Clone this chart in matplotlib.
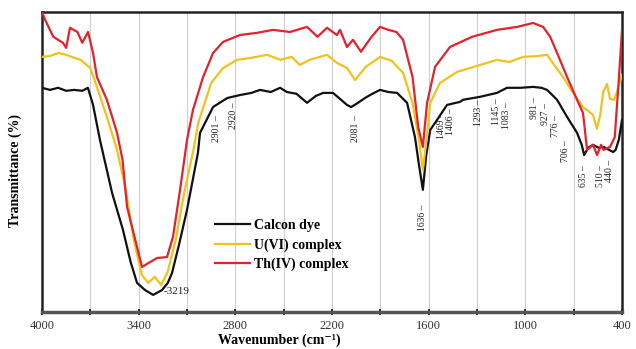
import matplotlib
matplotlib.use('Agg')
import matplotlib.pyplot as plt
from matplotlib.ticker import FixedLocator

plt.rcParams['font.family'] = ['Liberation Serif', 'DejaVu Serif']

# Calcon dye
wn_dye = [4000, 3950, 3900, 3850, 3800, 3750, 3715, 3683, 3640, 3565, 3497, 3450, 3410, 3360,
          3310, 3255, 3219, 3193, 3150, 3100, 3032, 3019, 2938, 2850, 2770, 2700, 2647, 2580,
          2522, 2480, 2420, 2355, 2300, 2255, 2194, 2150, 2107, 2081, 2050, 1995, 1950, 1902,
          1850, 1796, 1734, 1685, 1660, 1636, 1615, 1590, 1548, 1486, 1406, 1387, 1281, 1176,
          1114, 1030, 952, 900, 865, 803, 741, 679, 650, 635, 610, 580, 545, 515, 480, 455,
          440, 420, 400]
t_dye = [74.7, 74.0, 74.7, 73.7, 74.0, 73.7, 74.7, 69.0, 57.3, 39.7, 27.3, 16.7, 9.7, 7.3,
         5.7, 7.3, 9.7, 13.0, 22.3, 34.0, 53.0, 59.7, 68.3, 71.3, 72.3, 73.0, 74.0, 73.3,
         74.7, 73.3, 72.7, 69.7, 72.0, 73.0, 73.0, 71.0, 69.0, 68.3, 69.3, 71.3, 72.7, 74.0,
         73.3, 73.0, 69.7, 58.3, 49.0, 40.7, 52.3, 60.7, 64.0, 69.0, 70.0, 70.7, 71.7, 73.0,
         74.7, 74.7, 75.0, 74.7, 74.0, 70.7, 65.0, 59.7, 55.7, 52.3, 54.7, 55.7, 54.7, 55.0,
         54.0, 53.3, 54.0, 57.3, 64.0]

# U(VI) complex
wn_u = [4000, 3950, 3900, 3850, 3800, 3760, 3700, 3659, 3597, 3534, 3480, 3430, 3380, 3340,
        3300, 3260, 3220, 3170, 3120, 3060, 3030, 2950, 2876, 2790, 2700, 2603, 2520, 2450,
        2400, 2340, 2231, 2170, 2107, 2057, 1990, 1902, 1830, 1759, 1700, 1660, 1636, 1610,
        1590, 1530, 1424, 1281, 1176, 1100, 1014, 920, 865, 830, 766, 704, 642, 580, 556,
        535, 517, 493, 474, 450, 431, 400]
t_u = [85.0, 85.3, 86.3, 85.7, 84.7, 84.0, 81.3, 75.0, 65.0, 54.0, 40.7, 24.0, 12.3, 9.7,
       11.7, 9.0, 13.3, 24.0, 39.0, 54.0, 63.0, 76.3, 81.3, 84.0, 84.7, 85.7, 84.0, 85.0,
       82.3, 84.0, 85.7, 83.0, 81.3, 77.3, 81.7, 85.0, 83.7, 79.7, 69.7, 57.3, 47.3, 59.0,
       69.7, 76.3, 80.0, 82.3, 84.0, 83.3, 85.0, 85.3, 85.7, 83.0, 78.3, 73.0, 68.3, 65.7, 61.0,
       65.7, 73.3, 76.0, 71.0, 70.7, 73.3, 79.0]

# Th(IV) complex
wn_th = [4000, 3980, 3930, 3870, 3850, 3826, 3780, 3750, 3714, 3683, 3659, 3597, 3534, 3500,
         3472, 3410, 3379, 3340, 3285, 3224, 3187, 3143, 3100, 3063, 3000, 2938, 2876, 2770,
         2667, 2566, 2460, 2355, 2290, 2231, 2170, 2150, 2107, 2070, 2020, 1960, 1902, 1850,
         1800, 1759, 1700, 1665, 1636, 1610, 1560, 1468, 1330, 1176, 1050, 952, 890, 846, 803,
         741, 679, 642, 617, 580, 555, 530, 515, 474, 445, 420, 400]
t_th = [100.0, 97.3, 91.7, 89.7, 88.0, 94.7, 93.3, 89.7, 93.3, 86.3, 78.3, 70.7, 59.7, 50.7,
        35.0, 21.7, 15.0, 16.3, 18.0, 18.3, 25.0, 40.7, 57.3, 67.3, 78.3, 86.3, 90.0, 92.3,
        93.0, 94.0, 93.3, 95.0, 91.7, 94.7, 92.3, 94.0, 88.3, 90.7, 86.7, 91.3, 95.0, 94.0,
        93.3, 90.7, 78.3, 61.7, 55.0, 69.7, 81.7, 88.3, 91.7, 94.0, 95.0, 96.3, 95.0, 91.7, 86.3,
        78.3, 70.7, 66.3, 54.0, 55.7, 52.3, 55.7, 54.0, 55.0, 58.3, 77.3, 94.0]

# peak labels: text, x position (cm-1), top of text (%)
peak_labels = ['2901', '2920', '2081', '1636', '1469', '1406', '1293', '1145', '1083',
               '981', '927', '776', '706', '635', '510', '440']
peak_x = [2914, 2814, 2057, 1641, 1522, 1462, 1288, 1178, 1120,
          946, 872, 814, 748, 642, 532, 478]
peak_top = [65.7, 70.0, 65.7, 35.7, 66.5, 68.0, 70.7, 71.3, 70.0,
            71.7, 69.7, 65.7, 57.3, 49.0, 49.0, 50.7]

fig = plt.figure(figsize=(6.36, 3.49), dpi=100)
ax = fig.add_axes([0.066, 0.106, 0.912, 0.860])

ax.plot(wn_dye, t_dye, color='#111111', lw=1.6, label='Calcon dye', zorder=3)
ax.plot(wn_u, t_u, color='#f2c21b', lw=1.6, label='U(VI) complex', zorder=3)
ax.plot(wn_th, t_th, color='#e3222b', lw=1.6, label='Th(IV) complex', zorder=3)

for lab, x, y in zip(peak_labels, peak_x, peak_top):
    ax.text(x, y, lab + ' \u2013', rotation=90, ha='center', va='top',
            fontsize=7, color='#222222', zorder=4)
ax.text(3243, 6.7, '-3219', ha='left', va='center', fontsize=8, color='#222222')

ax.set_xlim(4000, 400)
ax.set_ylim(0, 100)
ax.xaxis.set_major_locator(FixedLocator([4000, 3400, 2800, 2200, 1600, 1000, 400]))
ax.xaxis.set_minor_locator(FixedLocator([3700, 3100, 2500, 1900, 1300, 700]))
ax.tick_params(axis='x', which='both', direction='inout', length=5, width=1.2,
               labelsize=9, labelcolor='#333333', pad=3)
ax.set_yticks([])

for x in range(3700, 400, -300):
    ax.axvline(x, color='#cfcfcf', lw=0.8, zorder=1)

for s in ax.spines.values():
    s.set_linewidth(1.8)
    s.set_color('#222222')
ax.spines['bottom'].set_color('#555555')
ax.spines['bottom'].set_linewidth(2.5)

ax.set_xlabel('Wavenumber (cm\u207b\u00b9)', fontsize=10, fontweight='bold')
ax.xaxis.set_label_coords(0.41, -0.07)
ax.set_ylabel('Transmittance (%)', fontsize=10, fontweight='bold')
ax.yaxis.set_label_coords(-0.034, 0.47)

ax.legend(loc='upper left', bbox_to_anchor=(0.298, 0.31), frameon=False,
          borderpad=0, borderaxespad=0, handlelength=2.5, handletextpad=0.3,
          labelspacing=0.45, prop={'size': 10, 'weight': 'bold'})

fig.savefig('out.png', dpi=100)
